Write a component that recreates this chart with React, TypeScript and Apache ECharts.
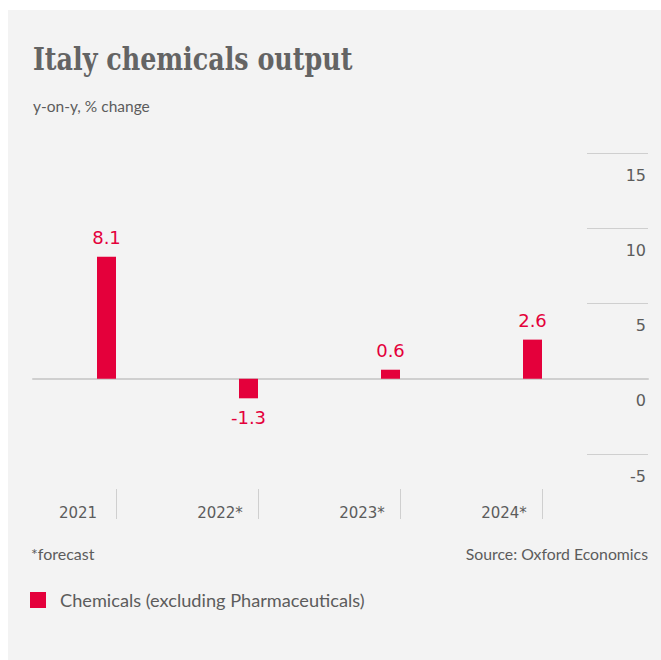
import React, { useEffect, useRef } from "react";
import * as echarts from "echarts";

const categories = ["2021", "2022*", "2023*", "2024*"];
const chemicalsValues = [8.1, -1.3, 0.6, 2.6];
const yTicks = { min: -5, max: 15, interval: 5 };
const seriesName = "Chemicals (excluding Pharmaceuticals)";
const titleText = "Italy chemicals output";
const subtitleText = "y-on-y, % change";
const footnoteText = "*forecast";
const sourceText = "Source: Oxford Economics";

const RED = "#e4003b";
const GREY_TEXT = "#5c5c5c";
const LINE = "#cfcfcf";
const NARROW = "Lato, 'DejaVu Sans Condensed', sans-serif";
const LABEL_FONT = "'DejaVu Sans', sans-serif";

export default function App() {
  const ref = useRef<HTMLDivElement>(null);
  useEffect(() => {
    if (!ref.current) return;
    const chart = echarts.init(ref.current, null, { renderer: "svg" });
    const option: any = {
      animation: false,
      backgroundColor: "#ffffff",
      graphic: [
        {
          type: "rect",
          z: -10,
          shape: { x: 8, y: 10, width: 653, height: 650 },
          style: { fill: "#f3f3f3" },
          silent: true,
        },
        {
          type: "text",
          x: 33,
          y: 44,
          scaleX: 0.91,
          silent: true,
          style: {
            text: titleText,
            fontFamily: "'DejaVu Serif Condensed', 'DejaVu Serif', serif",
            fontWeight: "bold",
            fontSize: 31,
            fill: "#646464",
            verticalAlign: "top",
            align: "left",
          },
        },
      ],
      title: [
        {
          text: subtitleText,
          left: 33,
          top: 98,
          padding: 0,
          textStyle: { fontFamily: NARROW, fontWeight: "normal", fontSize: 15.5, color: GREY_TEXT },
        },
        {
          text: footnoteText,
          left: 31,
          top: 545,
          padding: 0,
          textStyle: { fontFamily: NARROW, fontWeight: "normal", fontSize: 16, color: GREY_TEXT },
        },
        {
          text: sourceText,
          right: 13,
          top: 545,
          padding: 0,
          textStyle: { fontFamily: NARROW, fontWeight: "normal", fontSize: 15.8, color: GREY_TEXT },
        },
      ],
      legend: {
        data: [seriesName],
        left: 30,
        top: 591,
        padding: 0,
        icon: "rect",
        itemWidth: 16,
        itemHeight: 16,
        textStyle: {
          fontFamily: NARROW,
          fontSize: 18.2,
          color: GREY_TEXT,
          padding: [0, 0, 0, 9],
        },
      },
      grid: [
        { left: 45, top: 153, width: 568, height: 301 },
        { left: 33, top: 153, width: 615, height: 301 },
      ],
      xAxis: [
        {
          type: "category",
          gridIndex: 0,
          data: categories,
          position: "bottom",
          offset: 35,
          axisLine: { show: false, onZero: false },
          axisTick: {
            show: true,
            alignWithLabel: true,
            length: 30,
            lineStyle: { color: LINE, width: 1 },
          },
          axisLabel: {
            margin: 16,
            align: "center",
            padding: [0, 76, 0, 0],
            fontFamily: LABEL_FONT,
            fontSize: 15,
            color: GREY_TEXT,
          },
          splitLine: { show: false },
        },
        {
          type: "category",
          gridIndex: 1,
          data: categories,
          axisLine: { show: true, onZero: true, lineStyle: { color: LINE, width: 2 } },
          axisTick: { show: false },
          axisLabel: { show: false },
          splitLine: { show: false },
        },
      ],
      yAxis: [
        {
          type: "value",
          gridIndex: 0,
          min: yTicks.min,
          max: yTicks.max,
          interval: yTicks.interval,
          show: false,
          splitLine: { show: false },
        },
        {
          type: "value",
          gridIndex: 1,
          position: "right",
          min: yTicks.min,
          max: yTicks.max,
          interval: yTicks.interval,
          axisLine: { show: false },
          splitLine: { show: false },
          axisTick: {
            show: true,
            inside: true,
            length: 61,
            lineStyle: { color: LINE, width: 1 },
          },
          axisLabel: {
            inside: true,
            margin: 2,
            verticalAlign: "top",
            padding: [14, 0, 0, 0],
            fontFamily: LABEL_FONT,
            fontSize: 16,
            color: GREY_TEXT,
          },
        },
      ],
      series: [
        {
          name: seriesName,
          type: "bar",
          xAxisIndex: 0,
          yAxisIndex: 0,
          barWidth: 19,
          barGap: "0%",
          data: chemicalsValues,
          itemStyle: { color: RED },
          label: {
            show: true,
            position: "outside",
            distance: 10,
            fontFamily: LABEL_FONT,
            fontSize: 18,
            color: RED,
          },
          z: 3,
        },
        {
          name: "spacer",
          type: "bar",
          xAxisIndex: 0,
          yAxisIndex: 0,
          barWidth: 19,
          barGap: "0%",
          data: categories.map(() => null),
          itemStyle: { color: "transparent" },
          silent: true,
        },
      ],
    };
    chart.setOption(option);
    return () => chart.dispose();
  }, []);
  return (
    <div
      ref={ref}
      style={{ position: "fixed", left: 0, top: 0, width: 661, height: 660 }}
    />
  );
}
